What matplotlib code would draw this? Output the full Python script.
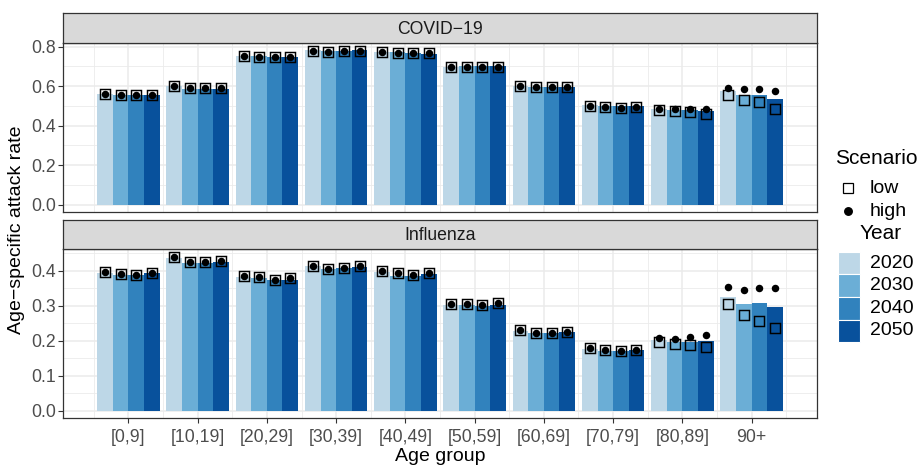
import matplotlib
matplotlib.use("Agg")
import matplotlib.pyplot as plt
from matplotlib.patches import Rectangle
import numpy as np

plt.rcParams['font.family'] = ['Liberation Sans', 'DejaVu Sans']

age_groups = ['[0,9]', '[10,19]', '[20,29]', '[30,39]', '[40,49]',
              '[50,59]', '[60,69]', '[70,79]', '[80,89]', '90+']
years = ['2020', '2030', '2040', '2050']
year_colors = ['#BDD7E7', '#6BAED6', '#3182BD', '#08519C']

covid_bar = [
    [0.562, 0.557, 0.555, 0.557],
    [0.599, 0.587, 0.587, 0.587],
    [0.751, 0.750, 0.748, 0.748],
    [0.781, 0.775, 0.775, 0.781],
    [0.771, 0.771, 0.768, 0.764],
    [0.695, 0.700, 0.700, 0.700],
    [0.599, 0.597, 0.597, 0.597],
    [0.506, 0.501, 0.498, 0.498],
    [0.484, 0.481, 0.481, 0.476],
    [0.577, 0.557, 0.557, 0.537],
]
covid_low = [
    [0.560, 0.555, 0.555, 0.556],
    [0.598, 0.588, 0.588, 0.588],
    [0.750, 0.749, 0.745, 0.747],
    [0.779, 0.773, 0.775, 0.780],
    [0.771, 0.768, 0.766, 0.768],
    [0.698, 0.698, 0.698, 0.698],
    [0.598, 0.594, 0.594, 0.594],
    [0.500, 0.494, 0.489, 0.492],
    [0.481, 0.474, 0.468, 0.458],
    [0.557, 0.530, 0.518, 0.484],
]
covid_high = [
    [0.560, 0.555, 0.555, 0.556],
    [0.598, 0.588, 0.588, 0.588],
    [0.750, 0.749, 0.745, 0.747],
    [0.779, 0.773, 0.775, 0.780],
    [0.771, 0.768, 0.766, 0.768],
    [0.698, 0.698, 0.698, 0.698],
    [0.598, 0.594, 0.594, 0.594],
    [0.501, 0.494, 0.488, 0.493],
    [0.483, 0.483, 0.485, 0.486],
    [0.592, 0.587, 0.587, 0.575],
]

flu_bar = [
    [0.394, 0.389, 0.389, 0.394],
    [0.436, 0.423, 0.423, 0.427],
    [0.383, 0.379, 0.374, 0.374],
    [0.415, 0.406, 0.408, 0.410],
    [0.396, 0.387, 0.387, 0.390],
    [0.303, 0.303, 0.300, 0.303],
    [0.229, 0.222, 0.222, 0.225],
    [0.177, 0.172, 0.171, 0.174],
    [0.204, 0.198, 0.198, 0.200],
    [0.325, 0.305, 0.308, 0.297],
]
flu_low = [
    [0.398, 0.391, 0.389, 0.394],
    [0.439, 0.425, 0.425, 0.428],
    [0.385, 0.382, 0.374, 0.381],
    [0.415, 0.405, 0.408, 0.413],
    [0.400, 0.393, 0.389, 0.395],
    [0.306, 0.306, 0.303, 0.308],
    [0.231, 0.224, 0.224, 0.227],
    [0.179, 0.173, 0.171, 0.175],
    [0.198, 0.190, 0.189, 0.183],
    [0.307, 0.274, 0.258, 0.238],
]
flu_high = [
    [0.398, 0.391, 0.389, 0.394],
    [0.439, 0.425, 0.425, 0.428],
    [0.385, 0.382, 0.374, 0.381],
    [0.415, 0.405, 0.408, 0.413],
    [0.400, 0.393, 0.389, 0.395],
    [0.306, 0.306, 0.303, 0.308],
    [0.231, 0.224, 0.224, 0.227],
    [0.179, 0.173, 0.171, 0.175],
    [0.208, 0.205, 0.211, 0.216],
    [0.353, 0.347, 0.350, 0.350],
]

panels = [
    ('COVID\u221219', covid_bar, covid_low, covid_high,
     (-0.037, 0.818), np.arange(0, 0.81, 0.2), np.arange(0.1, 0.8, 0.2), '{:.1f}'),
    ('Influenza', flu_bar, flu_low, flu_high,
     (-0.021, 0.462), np.arange(0, 0.41, 0.1), np.arange(0.05, 0.46, 0.1), '{:.1f}'),
]

W, H = 919, 465
fig = plt.figure(figsize=(W / 100, H / 100), dpi=100)


def fbox(x0, y0, x1, y1):
    return [x0 / W, 1 - y1 / H, (x1 - x0) / W, (y1 - y0) / H]


panel_boxes = [(63.3, 43.0, 816.7, 212.0), (63.3, 249.3, 816.7, 418.3)]
strip_boxes = [(63.3, 13.3, 816.7, 43.0), (63.3, 219.7, 816.7, 249.3)]

border = '#333333'
grid_c = '#EBEBEB'
bar_w = 0.225
offsets = (np.arange(4) - 1.5) * bar_w
xpos = np.arange(len(age_groups))

for i, (title, bars, low, high, ylim, majors, minors, fmt) in enumerate(panels):
    ax = fig.add_axes(fbox(*panel_boxes[i]))
    ax.set_facecolor('white')
    ax.set_xlim(-0.94, 9.94)
    ax.set_ylim(*ylim)
    # grid
    for y in minors:
        ax.axhline(y, color=grid_c, lw=0.6, zorder=0)
    for y in majors:
        ax.axhline(y, color=grid_c, lw=1.1, zorder=0)
    for x in np.arange(-0.5, 10, 1.0):
        ax.axvline(x, color=grid_c, lw=0.6, zorder=0)
    for x in xpos:
        ax.axvline(x, color=grid_c, lw=1.1, zorder=0)
    b = np.array(bars)
    lo = np.array(low)
    hi = np.array(high)
    for j in range(4):
        ax.bar(xpos + offsets[j], b[:, j], width=bar_w, color=year_colors[j],
               linewidth=0, zorder=2)
    for j in range(4):
        ax.plot(xpos + offsets[j], lo[:, j], linestyle='none', marker='s',
                markersize=6.9, markerfacecolor='none', markeredgecolor='black',
                markeredgewidth=1.05, zorder=3)
        ax.plot(xpos + offsets[j], hi[:, j], linestyle='none', marker='o',
                markersize=5.4, markerfacecolor='black', markeredgecolor='black',
                markeredgewidth=0, zorder=4)
    ax.set_yticks(majors)
    ax.set_yticklabels([fmt.format(v) for v in majors])
    ax.set_xticks(xpos)
    if i == 1:
        ax.set_xticklabels(age_groups)
    else:
        ax.set_xticklabels([])
    ax.tick_params(axis='both', colors=border, length=3.5, width=0.8,
                   labelcolor='#4D4D4D', labelsize=12.7, pad=2)
    ax.tick_params(axis='x', pad=4)
    if i == 0:
        ax.tick_params(axis='x', length=0)
    for s in ax.spines.values():
        s.set_color(border)
        s.set_linewidth(0.9)
        s.set_zorder(5)
    # strip
    sax = fig.add_axes(fbox(*strip_boxes[i]))
    sax.set_facecolor('#D9D9D9')
    sax.set_xticks([])
    sax.set_yticks([])
    for s in sax.spines.values():
        s.set_color(border)
        s.set_linewidth(0.9)
    sax.text(0.5, 0.47, title, ha='center', va='center', fontsize=12.7,
             color='#1A1A1A', transform=sax.transAxes)

fig.text(440 / W, 1 - 456 / H, 'Age group', ha='center', va='center', fontsize=14)
fig.text(17 / W, 1 - 230 / H, 'Age\u2212specific attack rate', ha='center',
         va='center', rotation=90, fontsize=14)

# legend
lax = fig.add_axes([0, 0, 1, 1], facecolor='none')
lax.set_xlim(0, W)
lax.set_ylim(H, 0)
lax.axis('off')
lax.text(835, 158, 'Scenario', fontsize=15, va='center', ha='left')
lax.plot([848], [188], marker='s', markersize=7, markerfacecolor='none',
         markeredgecolor='black', markeredgewidth=0.9, linestyle='none')
lax.plot([848], [211], marker='o', markersize=5.4, color='black', linestyle='none')
lax.text(870, 188, 'low', fontsize=14, va='center', ha='left')
lax.text(870, 211, 'high', fontsize=14, va='center', ha='left')
lax.text(860, 233, 'Year', fontsize=15, va='center', ha='left')
for j, (yr, c) in enumerate(zip(years, year_colors)):
    yc = 263 + j * 22.6
    lax.add_patch(Rectangle((838, yc - 11.3), 22, 22.6, facecolor=c, edgecolor='white',
                            linewidth=0.8))
    lax.text(870, yc, yr, fontsize=14, va='center', ha='left')

fig.savefig('out.png', dpi=100)
